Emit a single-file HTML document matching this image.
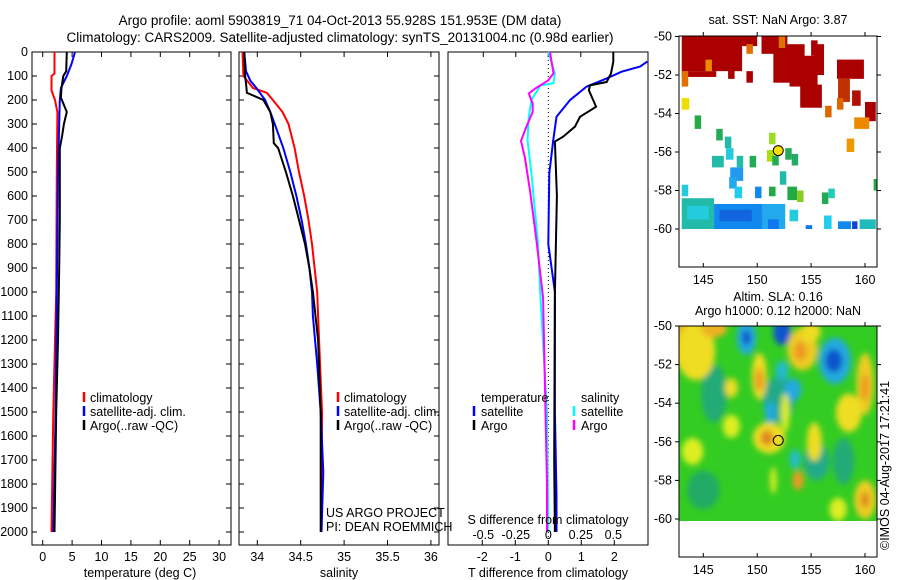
<!DOCTYPE html>
<html><head><meta charset="utf-8">
<style>
html,body{margin:0;padding:0;background:#fff;}
svg{display:block;font-family:"Liberation Sans",sans-serif;}
text{font-size:12.5px;fill:#000;}
</style></head>
<body>
<svg id="c" width="900" height="580" viewBox="0 0 900 580" xmlns="http://www.w3.org/2000/svg">
<defs>
<filter id="blur" x="-20%" y="-20%" width="140%" height="140%"><feGaussianBlur stdDeviation="3"/></filter>
<clipPath id="slaclip"><rect x="679" y="326" width="198" height="195"/></clipPath>
</defs>
<text x="340" y="25" text-anchor="middle" style="font-size:13.5px">Argo profile: aoml 5903819_71 04-Oct-2013 55.928S 151.953E (DM data)</text>
<text x="340" y="42" text-anchor="middle" style="font-size:13.5px">Climatology: CARS2009. Satellite-adjusted climatology: synTS_20131004.nc (0.98d earlier)</text>
<text x="778" y="24" text-anchor="middle">sat. SST: NaN Argo: 3.87</text>
<text x="778" y="301" text-anchor="middle">Altim. SLA: 0.16</text>
<text x="778" y="315" text-anchor="middle">Argo h1000: 0.12 h2000: NaN</text>
<text transform="translate(889,550) rotate(-90)">©IMOS 04-Aug-2017 17:21:41</text>
<g id="g"></g>
</svg>
<script>
// ---- profile data (depth in dbar) ----
const tClimDepth=[0,90,100,160,200,250,500,1000,1500,2000];
const tClimVal=[2.0,2.0,1.5,1.5,2.1,2.5,2.4,2.3,1.8,1.5];
const tSatDepth=[0,50,100,150,200,300,500,1000,1500,2000];
const tSatVal=[5.5,4.9,4.1,3.1,2.9,2.8,2.6,2.4,2.2,1.8];
const tArgoDepth=[0,80,100,150,190,250,300,350,400,700,900,1200,1500,2000];
const tArgoVal=[4.1,4.0,3.5,3.2,3.1,4.1,3.6,3.3,2.9,2.9,2.8,2.6,2.3,2.0];
const sClimDepth=[0,100,150,170,200,250,300,400,500,600,700,800,900,1000,1100,1500,2000];
const sClimVal=[33.83,33.84,33.95,34.11,34.18,34.29,34.36,34.43,34.48,34.54,34.59,34.63,34.66,34.69,34.70,34.745,34.74];
const sSatDepth=[0,80,120,150,200,250,300,400,500,600,700,800,900,1000,1100,1300,1500,1750,2000];
const sSatVal=[33.85,33.87,33.92,33.99,34.09,34.15,34.2,34.3,34.38,34.45,34.51,34.56,34.6,34.63,34.64,34.69,34.73,34.76,34.74];
const sArgoDepth=[0,100,130,170,200,250,300,380,400,500,600,700,800,900,1000,1200,1500,2000];
const sArgoVal=[33.85,33.86,33.87,33.88,34.07,34.15,34.18,34.19,34.24,34.33,34.41,34.48,34.55,34.6,34.64,34.7,34.73,34.73];
const dTArgoDepth=[0,40,89,125,139,160,228,270,311,353,373,600,1000,1700,2000];
const dTArgoVal=[1.97,1.97,1.9,1.77,1.26,1.23,1.45,0.96,0.81,0.45,0.2,0.26,0.2,0.18,0.2];
const dTSatDepth=[40,61,82,110,144,200,270,366,505,800,1000,1500,1850,2000];
const dTSatVal=[3.0,2.78,2.22,1.77,1.16,0.66,0.25,0.15,0.03,0.0,0.2,0.2,0.25,0.25];
const dSArgoDepth=[0,89,118,152,173,215,250,300,370,440,580,790,1025,1800,2000];
const dSArgoVal=[0.013,0.04,0.0,-0.1,-0.15,-0.12,-0.12,-0.16,-0.21,-0.18,-0.14,-0.09,-0.04,-0.01,-0.01];
const dSSatDepth=[0,89,130,139,200,270,366,505,790,1025,1500,2000];
const dSSatVal=[0,0.05,0.04,-0.06,-0.13,-0.15,-0.16,-0.13,-0.08,-0.06,-0.01,0];
const depthTicks=[0,100,200,300,400,500,600,700,800,900,1000,1100,1200,1300,1400,1500,1600,1700,1800,1900,2000];
const tempTicks=[0,5,10,15,20,25,30];
const salTicks=[34,34.5,35,35.5,36];
const salTickLabels=["34","34.5","35","35.5","36"];
const dTTicks=[-2,-1,0,1,2];
const dSTicks=[-0.5,-0.25,0,0.25,0.5];
const dSTickLabels=["-0.5","-0.25","0","0.25","0.5"];
// ---- SST map cells: [lon0, lat0, lon1, lat1, colour] ----
const sstCells=[
[143,-50,148.6,-51.8,'#aa0000'],[143,-51.8,146.2,-52.1,'#aa0000'],[148.5,-50,150,-50.5,'#aa0000'],[150.4,-50,152.8,-50.9,'#aa0000'],
[147.3,-51.6,147.9,-52.2,'#aa0000'],[149,-51.8,149.6,-52.4,'#aa0000'],[152.5,-50.4,154.4,-51.5,'#aa0000'],[153,-51,155.6,-52.6,'#aa0000'],
[151.5,-50.8,153.2,-52.4,'#aa0000'],[154,-52.5,156,-53.7,'#aa0000'],[155.3,-50.4,156.2,-52,'#aa0000'],
[154,-52.5,155.4,-53.6,'#aa0000'],[155,-50.2,155.6,-51,'#aa0000'],[157.4,-51.2,159.9,-52.2,'#aa0000'],[157.5,-52.2,158.6,-53.4,'#c03000'],
[158.8,-52.8,159.6,-53.6,'#b01000'],[160,-53.4,161,-54.4,'#aa0000'],[152,-50,152.6,-50.6,'#e07000'],[149,-50.4,149.6,-50.9,'#e07000'],
[143,-51.8,143.6,-52.6,'#e07000'],[145.2,-51.2,145.8,-51.8,'#ee8800'],[156.3,-53.6,156.9,-54.2,'#dd6600'],[157.4,-53.2,158,-53.8,'#dd6600'],
[159,-54.2,160.4,-54.8,'#ee8800'],[158.3,-55.3,159,-56,'#ee9900'],[143,-53.2,143.7,-53.8,'#eedd00'],
[144.2,-54.1,144.8,-54.8,'#22aa44'],[146.2,-54.8,146.8,-55.4,'#22aa55'],[147,-55.2,147.6,-55.8,'#22bbaa'],[147.1,-55.8,147.8,-56.4,'#22ccdd'],
[145.8,-56.2,146.9,-56.8,'#22bbaa'],[148.1,-56.2,148.7,-56.8,'#22bbaa'],[149.3,-56.2,149.9,-56.8,'#22aa55'],[151.1,-55,151.7,-55.6,'#99dd22'],
[150.9,-55.9,151.6,-56.5,'#aadd11'],[151.4,-56.2,152,-56.7,'#22aa55'],[152.6,-55.8,153.2,-56.4,'#22aa55'],[153.2,-56.1,153.8,-56.7,'#22aa66'],
[147.5,-56.8,148.7,-57.5,'#2299ee'],[147.4,-57.3,148.1,-57.9,'#22aaee'],[147.9,-57.8,148.6,-58.4,'#22ccee'],[152.1,-57,152.7,-57.7,'#22bbaa'],
[151.1,-57.8,151.7,-58.3,'#22aa44'],[152.8,-57.8,153.7,-58.5,'#22aa44'],[153.7,-58,154.3,-58.6,'#88cc22'],[156,-58.1,156.6,-58.7,'#22aa55'],
[156.6,-57.9,157.2,-58.4,'#22ccbb'],[143,-57.7,143.6,-58.3,'#22ccdd'],[160.8,-57.4,161.1,-58,'#22aa44'],[149.8,-57.8,150.4,-58.4,'#1188ee'],
[143,-58.4,146,-60,'#22bbaa'],[143.5,-58.8,145.5,-59.5,'#22ccdd'],[146,-58.7,150.5,-60,'#1188ee'],[146.5,-59,149.5,-59.6,'#1166dd'],
[150.5,-58.7,152.6,-60,'#22aaee'],[151,-59.5,152,-60,'#1177ee'],[153,-59,153.8,-59.6,'#22ccdd'],[154.5,-59.8,155.1,-60,'#1177ee'],
[156.2,-59.3,156.9,-60,'#22ccee'],[157.5,-59.6,158.7,-60,'#1188ee'],[158.8,-59.6,159.3,-60,'#1144cc'],[159.5,-59.5,161,-60,'#22bbbb']
];
// ---- SLA map blobs: [lon, lat, rLon, rLat, colour] ----
const slaBlobs=[
[146,-53.5,1.2,1.5,'#22aa77'],[152,-53.8,1.5,1.2,'#22aa88'],[155.5,-57,1.2,1,'#22aa88'],[145,-58.5,1.5,1,'#22aa66'],[158,-57,1,1.2,'#22aa77'],
[143.6,-51,1.6,1.3,'#f0b020'],[144.3,-51.3,1.8,1.5,'#eedd22'],[146,-50.1,1.2,0.5,'#eeb020'],
[149,-50.6,0.9,0.9,'#22aadd'],[149,-50.6,0.4,0.4,'#1155cc'],[152.3,-50.3,0.8,0.7,'#1155cc'],
[154.2,-51.2,1.4,1.1,'#eecc22'],[154,-51.3,0.6,0.5,'#ee9922'],[155,-50.3,0.9,0.5,'#eedd22'],
[157.2,-51.8,1.5,1.2,'#22aadd'],[157.1,-51.8,0.8,0.6,'#1155cc'],[150.2,-52.6,0.7,1.2,'#eedd22'],[150.2,-52.8,0.4,0.6,'#ee9922'],
[147.6,-53.2,0.6,0.5,'#eedd22'],[152.3,-52.3,0.6,0.5,'#22bbcc'],[153.3,-53.3,0.8,0.6,'#22aadd'],
[160,-53,0.8,1.6,'#eecc22'],[160,-53.2,0.4,0.7,'#ee9922'],[158.5,-54.5,1.2,1,'#eedd22'],[151.2,-54.5,0.5,0.6,'#22aadd'],
[152.6,-54.5,0.4,1,'#ddee22'],[151.1,-55.8,1.5,0.8,'#eedd22'],[150.9,-55.8,0.6,0.4,'#dd8822'],
[147.6,-55.2,0.8,0.6,'#ddee22'],[144,-56.5,1,0.7,'#ddee22'],[155.3,-56,0.7,1,'#eedd22'],[153.5,-56.9,0.5,0.5,'#22bbcc'],
[153.8,-58,0.5,0.5,'#ee9922'],[160,-59,1,1,'#eecc22'],[160,-59,0.4,0.4,'#dd8822'],[157.5,-59.5,0.8,0.6,'#ddee22'],[151.5,-58,0.3,0.7,'#ddee22']
];
const profLat=-55.928, profLon=151.953;
// ---------------------------------------------
const NS='http://www.w3.org/2000/svg';
const g=document.getElementById('g');
function mk(tag,attrs,parent){const e=document.createElementNS(NS,tag);for(const k in attrs)e.setAttribute(k,attrs[k]);(parent||g).appendChild(e);return e;}
const yD=d=>52+d*0.24;
const xT=t=>42.7+t*5.88;
const xS=s=>257.3+(s-34)*86.8;
const xDT=v=>548.3+v*33;
const xDS=v=>548.3+v*130;
const mx=lon=>703.3+(lon-145)*10.78;
const my1=lat=>36.5+(-50-lat)*19.25;
const my2=lat=>326+(-50-lat)*19.3;

function panel(x0,x1,name){
  const r=mk('rect',{x:x0,y:52,width:x1-x0,height:493,fill:'none',stroke:'#000','stroke-width':1});
  
  
  depthTicks.forEach(d=>{mk('line',{x1:x0,x2:x0+5,y1:yD(d),y2:yD(d),stroke:'#000'});mk('line',{x1:x1-5,x2:x1,y1:yD(d),y2:yD(d),stroke:'#000'});});
}
function xticks(vals,f,labels,ly,name){
  vals.forEach((v,i)=>{const x=f(v);
    mk('line',{x1:x,x2:x,y1:52,y2:57,stroke:'#000'});mk('line',{x1:x,x2:x,y1:540,y2:545,stroke:'#000'});
    const t=mk('text',{x:x,y:ly,'text-anchor':'middle'});t.textContent=labels[i];
    
    });
}
function line(depths,vals,fx,color,name){
  const pts=[];depths.forEach((d,i)=>{pts.push(fx(vals[i]).toFixed(1)+','+yD(d).toFixed(1));});
  const p=mk('polyline',{points:pts.join(' '),fill:'none',stroke:color,'stroke-width':2,'stroke-linejoin':'miter'});
  
  
}
function txt(x,y,s,name,anchor){const t=mk('text',{x:x,y:y,'text-anchor':anchor||'start'});t.textContent=s;
  
  return t;}
function legMark(x,y,c){mk('line',{x1:x,x2:x,y1:y-10,y2:y,stroke:c,'stroke-width':2.5});}

// Panel 1
panel(32,231,'temperature-panel');
depthTicks.forEach(d=>{const t=txt(28,yD(d)+4,String(d),'depth-tick-label','end');});
xticks(tempTicks,xT,tempTicks.map(String),561,'temperature');
txt(140,577,'temperature (deg C)','temperature-axis-title','middle');
line(tClimDepth,tClimVal,xT,'#ff0000','temp-climatology-line');
line(tSatDepth,tSatVal,xT,'#0000ff','temp-satellite-line');
line(tArgoDepth,tArgoVal,xT,'#000000','temp-argo-line');
legMark(84,402,'#ff0000');txt(90,402,'climatology','legend-climatology');
legMark(84,416,'#0000ff');txt(90,416,'satellite-adj. clim.','legend-satellite');
legMark(84,430,'#000');txt(90,430,'Argo(..raw -QC)','legend-argo');

// Panel 2
panel(239,439,'salinity-panel');
xticks(salTicks,xS,salTickLabels,561,'salinity');
txt(339,577,'salinity','salinity-axis-title','middle');
line(sClimDepth,sClimVal,xS,'#ff0000','sal-climatology-line');
line(sSatDepth,sSatVal,xS,'#0000ff','sal-satellite-line');
line(sArgoDepth,sArgoVal,xS,'#000000','sal-argo-line');
legMark(338,402,'#ff0000');txt(344,402,'climatology','legend-climatology-2');
legMark(338,416,'#0000ff');txt(344,416,'satellite-adj. clim.','legend-satellite-2');
legMark(338,430,'#000');txt(344,430,'Argo(..raw -QC)','legend-argo-2');
txt(326,517,'US ARGO PROJECT','project-label');
txt(326,531,'PI: DEAN ROEMMICH','pi-label');

// Panel 3
mk('rect',{x:448,y:52,width:200,height:493,fill:'none',stroke:'#000'});
dSTicks.forEach(v=>{const x=xDS(v);mk('line',{x1:x,x2:x,y1:52,y2:57,stroke:'#000'});});
dTTicks.forEach(v=>{const x=xDT(v);mk('line',{x1:x,x2:x,y1:540,y2:545,stroke:'#000'});});
mk('line',{x1:548.3,x2:548.3,y1:52,y2:545,stroke:'#000','stroke-dasharray':'1,3'});
line(dSSatDepth,dSSatVal,xDS,'#00ffff','sdiff-satellite-line');
line(dSArgoDepth,dSArgoVal,xDS,'#ff00ff','sdiff-argo-line');
line(dTSatDepth,dTSatVal,xDT,'#0000ff','tdiff-satellite-line');
line(dTArgoDepth,dTArgoVal,xDT,'#000000','tdiff-argo-line');
txt(481,402,'temperature','legend-temperature-header');
legMark(474,416,'#0000ff');txt(481,416,'satellite','legend-t-satellite');
legMark(474,430,'#000');txt(481,430,'Argo','legend-t-argo');
txt(581,402,'salinity','legend-salinity-header');
legMark(574,416,'#00ffff');txt(581,416,'satellite','legend-s-satellite');
legMark(574,430,'#ff00ff');txt(581,430,'Argo','legend-s-argo');
txt(548,524,'S difference from climatology','s-diff-axis-title','middle');
dSTicks.forEach((v,i)=>{txt(xDS(v),539,dSTickLabels[i],'s-diff-tick-label','middle');});
dTTicks.forEach(v=>{txt(xDT(v),561,String(v),'t-diff-tick-label','middle');});
txt(548,577,'T difference from climatology','t-diff-axis-title','middle');

// Map ticks helper
const lonTicks=[145,150,155,160], latTicks=[-50,-52,-54,-56,-58,-60];
function mapFrame(y0,y1,my,name){
  const r=mk('rect',{x:679,y:y0,width:198,height:y1-y0,fill:'none',stroke:'#000'});
  
  
  lonTicks.forEach(l=>{const x=mx(l);mk('line',{x1:x,x2:x,y1:y0-4,y2:y0,stroke:'#000'});mk('line',{x1:x,x2:x,y1:y1-4,y2:y1,stroke:'#000'});
    txt(x,y1+17,String(l),'lon-tick-label','middle');});
  latTicks.forEach(l=>{const y=my(l);mk('line',{x1:675,x2:679,y1:y,y2:y,stroke:'#000'});mk('line',{x1:877,x2:881,y1:y,y2:y,stroke:'#000'});
    txt(672,y+4,String(l),'lat-tick-label','end');});
}
// SST map
sstCells.forEach(c=>{const r=mk('rect',{x:mx(c[0]),y:my1(c[1]),width:mx(c[2])-mx(c[0]),height:my1(c[3])-my1(c[1]),fill:c[4]});
  
  });
mapFrame(36,267,my1,'sst-map');
const c1=mk('circle',{cx:mx(profLon),cy:my1(profLat),r:5,fill:'#ffdd00',stroke:'#000'});



// SLA map
const sg=mk('g',{'clip-path':'url(#slaclip)'});
mk('rect',{x:679,y:326,width:198,height:195,fill:'#33cc22'},sg);
const bg=mk('g',{filter:'url(#blur)'},sg);
slaBlobs.forEach(b=>{const e=mk('ellipse',{cx:mx(b[0]),cy:my2(b[1]),rx:b[2]*10.78,ry:b[3]*19.3,fill:b[4]},bg);
  
  });
mapFrame(326,557,my2,'sla-map');
const c2=mk('circle',{cx:mx(profLon),cy:my2(profLat),r:5,fill:'none',stroke:'#000'});


</script>
</body></html>
